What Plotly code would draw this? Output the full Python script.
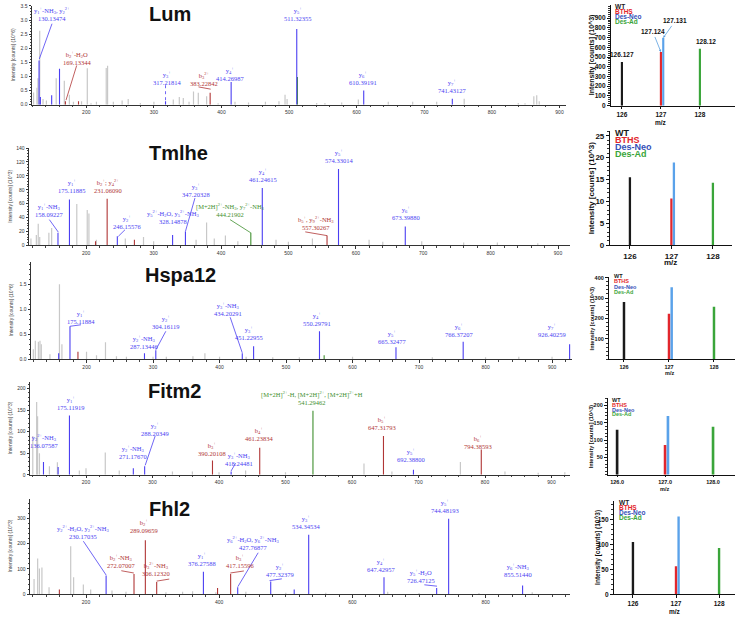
import plotly.graph_objects as go

W, H = 740, 621

def ion(letter, n, z):
    return f"{letter}<sub>{n}</sub><sup>{z}</sup>"
NH3 = "-NH<sub>3</sub>"
H2O = "-H<sub>2</sub>O"
M2H = "[M+2H]<sup>2+</sup>"

# ---------------- DATA ----------------
GENES = ["Lum", "Tmlhe", "Hspa12", "Fitm2", "Fhl2"]

# Lum
LUM_BG_MZ = [122, 127, 128.5, 131.1, 136, 141, 155.5, 167.5, 175, 181, 193, 201.5, 207, 215, 229.5, 231.5, 240, 253, 262, 280,
             300, 328.7, 337.6, 343.5, 352, 358.6, 365.7, 378, 395, 420, 440, 465, 485, 494, 497, 540.8, 553, 577.8, 602.4,
             646.7, 682.8, 718.3, 759, 839, 849, 862, 866.3, 870]
LUM_BG_INT = [0.43, 0.6, 0.94, 2.62, 0.2, 0.15, 0.94, 0.85, 0.35, 0.1, 0.12, 1.29, 0.05, 0.1, 1.3, 1.38, 0.1, 0.15, 0.2, 0.06,
              0.1, 0.18, 0.27, 0.24, 0.1, 0.47, 0.42, 0.3, 0.05, 0.1, 0.08, 0.1, 0.12, 0.35, 0.2, 0.06, 0.06, 0.08, 0.18,
              0.1, 0.1, 0.1, 0.21, 0.06, 0.05, 0.3, 0.33, 0.12]
LUM_ION_MZ = [130.13474, 132.1, 148.8, 160.4, 169.13344, 188.5, 317.21814, 383.22842, 414.26987, 511.32355, 512.3, 610.39191, 741.43127]
LUM_ION_INT = [1.57, 0.27, 0.33, 1.27, 0.12, 0.12, 0.12, 0.42, 0.8, 2.68, 0.98, 0.5, 0.21]
LUM_ION_KIND = ["y", "y", "y", "y", "b", "b", "y", "b", "y", "y", "p", "y", "y"]
LUM_ION_NAME = [ion("y", 1, "+") + NH3 + ", " + ion("y", 2, "2+"), "", "", "", ion("b", 2, "+") + H2O, "",
                ion("y", 3, "+"), ion("b", 3, "2+"), ion("y", 4, "+"), ion("y", 5, "+"), "", ion("y", 6, "+"), ion("y", 7, "+")]

# Tmlhe
TML_BG_MZ = [118, 126, 128.8, 131, 144.6, 148.7, 186, 201.5, 204, 215, 258, 285, 300, 363, 378.6, 390, 406.5, 425,
             481.6, 500, 535.6, 619.7, 640, 697.8, 760, 810, 870]
TML_BG_INT = [10, 15, 31, 12, 18, 25, 59.5, 51, 46, 8, 10, 12, 6, 8, 33, 10, 14, 6, 8, 5, 10, 8, 5, 6, 4, 4, 3]
TML_ION_MZ = [158.09227, 175.11885, 213.8, 231.06090, 246.15576, 271.5, 328.14878, 347.20328, 444.21902, 461.24615,
              557.30267, 574.33014, 673.39880]
TML_ION_INT = [18, 66, 6, 67, 13, 8, 15, 20, 18, 82.5, 14, 110, 27]
TML_ION_KIND = ["y", "y", "b", "b", "y", "b", "y", "y", "p", "y", "b", "y", "y"]
TML_ION_NAME = [ion("y", 1, "+") + NH3, ion("y", 1, "+"), "", ion("b", 2, "+") + "; " + ion("y", 4, "2+"), ion("y", 2, "+"), "",
                ion("y", 5, "2+") + H2O + ", " + ion("y", 5, "2+") + NH3, ion("y", 3, "+"),
                M2H + NH3 + ", " + ion("y", 7, "2+") + NH3, ion("y", 4, "+"),
                ion("b", 5, "+") + ", " + ion("y", 9, "2+") + NH3, ion("y", 5, "+"), ion("y", 6, "+")]

# Hspa12
HSP_BG_MZ = [120, 123, 127.6, 130, 132, 145, 159.3, 163, 200, 215, 228.5, 245, 260, 300, 320, 360, 378, 400, 440, 480,
             520, 600, 720, 800, 850, 900]
HSP_BG_INT = [0.2, 0.37, 0.35, 0.37, 0.3, 0.1, 1.5, 0.3, 0.15, 0.08, 0.34, 0.06, 0.05, 0.05, 0.05, 0.06, 0.12, 0.05, 0.05,
              0.04, 0.04, 0.05, 0.04, 0.04, 0.05, 0.05]
HSP_ION_MZ = [158.1, 175.11884, 187.1, 287.13446, 304.16119, 434.20291, 451.22955, 550.29791, 557.3, 665.32477, 766.37207, 926.40259]
HSP_ION_INT = [0.12, 0.66, 0.15, 0.12, 0.18, 0.12, 0.26, 0.56, 0.08, 0.24, 0.35, 0.3]
HSP_ION_KIND = ["y", "y", "b", "y", "y", "y", "y", "y", "p", "y", "y", "y"]
HSP_ION_NAME = ["", ion("y", 1, "+"), "", ion("y", 2, "+") + NH3, ion("y", 2, "+"), ion("y", 3, "+") + NH3, ion("y", 3, "+"),
                ion("y", 4, "+"), "", ion("y", 5, "+"), ion("y", 6, "+"), ion("y", 7, "+")]

# Fitm2
FIT_BG_MZ = [120, 125.8, 127.2, 130, 145, 157, 190, 200, 229, 250, 330, 360, 400, 440, 500, 618, 660, 763, 830, 880, 920]
FIT_BG_INT = [90, 169, 136, 50, 20, 29, 10, 15, 51.5, 10, 8, 8, 6, 10, 6, 26, 8, 30, 8, 5, 6]
FIT_ION_MZ = [136.07587, 158.1, 175.11919, 271.17670, 288.20349, 390.20108, 418.24481, 461.23834, 541.29462, 647.31793,
              692.38800, 794.38593]
FIT_ION_INT = [30, 18, 137.5, 15, 20, 33, 8, 62.5, 148.5, 90, 12, 59]
FIT_ION_KIND = ["y", "y", "y", "y", "y", "b", "y", "b", "p", "b", "y", "b"]
FIT_ION_NAME = [ion("y", 2, "2+") + NH3, "", ion("y", 1, "+"), ion("y", 2, "+") + NH3, ion("y", 2, "+"), ion("b", 3, "+"),
                ion("y", 3, "+") + NH3, ion("b", 4, "+"),
                "[M+2H]<sup>2+</sup>-H, [M+2H]<sup>2+</sup>, [M+2H]<sup>2+</sup>+H",
                ion("b", 5, "+"), ion("y", 5, "+"), ion("b", 6, "+")]

# Fhl2
FHL_BG_MZ = [122, 127.4, 130, 133.8, 144.5, 177, 181.4, 196, 207, 239, 260, 320, 345, 360, 395, 440, 500, 560, 653, 700, 790, 870]
FHL_BG_INT = [60, 141, 102, 106, 28, 190, 67, 39, 19, 15, 10, 8, 10, 12, 8, 10, 6, 6, 10, 5, 5, 8]
FHL_ION_MZ = [160, 230.17035, 272.07007, 289.09659, 306.12320, 376.27588, 397.5, 417.15596, 427.76877, 477.32379, 512.6,
              534.34534, 647.42957, 726.47125, 744.48193, 855.51440]
FHL_ION_INT = [19, 74, 80, 213, 48, 89, 25, 80, 28, 50, 19, 235, 67, 25, 298, 35]
FHL_ION_KIND = ["b", "y", "b", "b", "b", "y", "b", "b", "y", "y", "y", "y", "y", "y", "y", "y"]
FHL_ION_NAME = ["", ion("y", 2, "2+") + H2O + ", " + ion("y", 2, "2+") + NH3, ion("b", 2, "+") + NH3, ion("b", 2, "+"),
                ion("b", 3, "2+") + NH3, ion("y", 1, "+"), "", ion("b", 3, "+"),
                ion("y", 6, "2+") + H2O + ", " + ion("y", 6, "2+") + NH3, ion("y", 2, "+"), "", ion("y", 3, "+"),
                ion("y", 4, "+"), ion("y", 5, "+") + H2O, ion("y", 5, "+"), ion("y", 6, "+") + NH3]

# TMT reporter channels
CH_NAMES = ["WT", "BTHS", "Des-Neo", "Des-Ad"]
CH_POS = [126.0, 127.0, 127.06, 128.0]
CH_MZ = [126.127, 127.124, 127.131, 128.12]
LUM_TMT = [450, 552, 697, 585]
TML_TMT = [15.5, 10.7, 18.9, 14.3]
HSP_TMT = [281, 223, 353, 257]
FIT_TMT = [130, 86, 170, 139]
FHL_TMT = [105, 56, 156, 93]

# ---------------- STYLE / LAYOUT ----------------
BLUE, RED, GREEN, GRAY = "#4b3ff2", "#b03636", "#3f8f2f", "#c8c8c8"
KIND_COLOR = {"y": BLUE, "b": RED, "p": GREEN}
CH_BAR_COLORS = ["#1a1a1a", "#e2262c", "#5aa2ea", "#3aa53a"]
CH_TEXT_COLORS = ["#1a1a1a", "#e2262c", "#3450b8", "#3aa53a"]

LEFT = [
    dict(bg=(LUM_BG_MZ, LUM_BG_INT), ions=(LUM_ION_MZ, LUM_ION_INT, LUM_ION_KIND, LUM_ION_NAME),
         box=(32, 566, 3, 103), xr=(119.7, 909.6), yr=(0, 3.5), ydt=0.5, yfmt=".1f", xdt=100, unit="10^6",
         tpos=(170, 11), ytx=13),
    dict(bg=(TML_BG_MZ, TML_BG_INT), ions=(TML_ION_MZ, TML_ION_INT, TML_ION_KIND, TML_ION_NAME),
         box=(29, 570, 147, 245.5), xr=(115.1, 917.8), yr=(0, 140), ydt=20, yfmt="d", xdt=100, unit="10^3",
         tpos=(178, 152), ytx=10),
    dict(bg=(HSP_BG_MZ, HSP_BG_INT), ions=(HSP_ION_MZ, HSP_ION_INT, HSP_ION_KIND, HSP_ION_NAME),
         box=(31, 572, 262, 361), xr=(116.5, 930), yr=(0, 1.95), ydt=0.5, yfmt=".1f", xdt=100, unit="10^6",
         tpos=(180, 276), ytx=11),
    dict(bg=(FIT_BG_MZ, FIT_BG_INT), ions=(FIT_ION_MZ, FIT_ION_INT, FIT_ION_KIND, FIT_ION_NAME),
         box=(30, 570, 384, 478), xr=(115.8, 927.8), yr=(0, 215), ydt=50, yfmt="d", xdt=100, unit="10^3",
         tpos=(174, 393), ytx=10),
    dict(bg=(FHL_BG_MZ, FHL_BG_INT), ions=(FHL_ION_MZ, FHL_ION_INT, FHL_ION_KIND, FHL_ION_NAME),
         box=(30, 570, 502, 599), xr=(115.9, 926.7), yr=(0, 378), ydt=100, yfmt="d", xdt=200, unit="10^3",
         tpos=(169, 513), ytx=10),
]

LABELS = [
    [(130.13474, 149.3, 3.2, (149.3, 2.87, 130.5, 1.62), False),
     (169.13344, 186.3, 1.655, (185.8, 1.39, 170, 0.16), False),
     (317.21814, 319.4, 0.96, (317.2, 0.69, 317.2, 0.14), True),
     (383.22842, 374.3, 0.91, (366, 0.63, 384, 0.55), False),
     (414.26987, 412.7, 1.08, None, False),
     (511.32355, 511.7, 3.2, None, False),
     (610.39191, 609.3, 0.945, None, False),
     (741.43127, 741, 0.67, None, False)],
    [(158.09227, 145.3, 51, (145.3, 37, 158.6, 19), False),
     (175.11885, 178.5, 86, None, False),
     (231.06090, 232.3, 86, None, False),
     (246.15576, 260, 34, (257.6, 22.5, 247.7, 13), False),
     (328.14878, 329.2, 41, None, False),
     (347.20328, 362.3, 80, (361.3, 68, 347.2, 20), False),
     (444.21902, 413.4, 51.3, (413.4, 37, 444.2, 18), False),
     (461.24615, 462.8, 101, None, False),
     (557.30267, 540.2, 31.6, (525, 19.4, 557.3, 14), False),
     (574.33014, 575.5, 129, None, False),
     (673.39880, 674.5, 47, None, False)],
    [(175.11884, 191.7, 0.855, (191.7, 0.69, 175.2, 0.66), False),
     (287.13446, 287, 0.345, None, False),
     (304.16119, 319, 0.74, (319.2, 0.56, 304.2, 0.19), False),
     (434.20291, 412, 0.995, (416, 0.84, 434.2, 0.13), False),
     (451.22955, 445, 0.52, None, False),
     (550.29791, 546, 0.815, None, False),
     (665.32477, 660, 0.45, None, False),
     (766.37207, 760.5, 0.59, None, False),
     (926.40259, 900, 0.58, None, False)],
    [(136.07587, 136.5, 79, None, False),
     (175.11919, 176, 165.5, None, False),
     (271.17670, 270.7, 53, None, False),
     (288.20349, 304, 107, (304, 90, 289, 22), False),
     (390.20108, 389, 60.5, None, False),
     (418.24481, 429.7, 37.5, (425, 27, 418.2, 9), False),
     (461.23834, 459.5, 94, None, False),
     (541.29462, 539.6, 178, None, False),
     (647.31793, 645, 120.6, None, False),
     (692.38800, 688, 46.5, None, False),
     (794.38593, 790, 75, None, False)],
    [(230.17035, 196, 246, (196, 209.6, 230.2, 76), False),
     (272.07007, 253, 132.5, (253, 93, 271.8, 84), False),
     (289.09659, 287, 269, None, False),
     (306.12320, 305, 99, (306.1, 52, 325, 60), False),
     (376.27588, 373.6, 139.5, None, False),
     (417.15596, 431.4, 132, (416.6, 84, 437, 92), False),
     (427.76877, 450, 203.5, (458.5, 164, 428, 30), False),
     (477.32379, 491, 97.5, (475.6, 54, 494, 61), False),
     (534.34534, 530.5, 284, None, False),
     (647.42957, 642.4, 116, None, False),
     (726.47125, 703.6, 73, (708, 37.5, 727, 32), False),
     (744.48193, 739, 348.5, None, False),
     (855.51440, 849, 96, None, False)],
]

RIGHT = [
    dict(vals=LUM_TMT, box=(611, 735, 2, 104), xr=(125.72, 128.9), yr=(0, 1035), yt=list(range(0, 901, 100)), ymin=20,
         xtext=["126", "127", "128"], tf=6.5, tl=2.5, leg=(613, [4, 9, 14, 19], 6.5), ytitle=(592, 7), mz=(661, 121.5)),
    dict(vals=TML_TMT, box=(610, 732, 130, 245.5), xr=(125.52, 128.46), yr=(0, 26), yt=[0, 5, 10, 15, 20, 25], ymin=1,
         xtext=["126", "127", "128"], tf=8, tl=3, leg=(613, [132, 139, 146, 153], 9), ytitle=(591, 8), mz=(670, 263)),
    dict(vals=HSP_TMT, box=(609, 735, 278, 361), xr=(125.667, 128.467), yr=(0, 401), yt=[100, 200, 300, 400], ymin=20,
         xtext=["126", "127", "128"], tf=5.5, tl=1.5, leg=(612, [277, 282, 288, 293], 5.5), ytitle=(592, 5.5),
         mz=(669, 375)),
    dict(vals=FIT_TMT, box=(608, 735, 400, 478), xr=(125.81, 128.458), yr=(0, 222), yt=[50, 100, 150, 200], ymin=10,
         xtext=["126.0", "127.0", "128.0"], tf=5.5, tl=1.5, leg=(610, [402, 407, 412, 416.5], 5.5), ytitle=(591, 5.5),
         mz=(664, 492.5)),
    dict(vals=FHL_TMT, box=(614, 735, 505, 599), xr=(125.56, 128.37), yr=(0, 186), yt=[0, 50, 100, 150], ymin=10,
         xtext=["126", "127", "128"], tf=6.5, tl=2.5, leg=(617, [506, 511, 516, 521.5], 6.5), ytitle=(598, 6.5),
         mz=(675, 616.5)),
]


def xdom(x0, x1):
    return [x0 / W, x1 / W]


def ydom(ytop, ybot):
    return [1 - ybot / H, 1 - ytop / H]


def sticks(mz, inten):
    xs, ys = [], []
    for m, h in zip(mz, inten):
        xs += [m, m, None]
        ys += [0, h, None]
    return xs, ys


fig = go.Figure()
annotations, shapes = [], []
lay = {}

SANS = "Liberation Sans, Arial, sans-serif"
SERIF = "Liberation Serif, Times New Roman, serif"

for k, P in enumerate(LEFT):
    n = 2 * k + 1
    xa = "x" if n == 1 else f"x{n}"
    ya = "y" if n == 1 else f"y{n}"
    xk = "xaxis" if n == 1 else f"xaxis{n}"
    yk = "yaxis" if n == 1 else f"yaxis{n}"
    x0, x1, yt, yb = P["box"]
    gx, gy = sticks(*P["bg"])
    fig.add_trace(go.Scatter(x=gx, y=gy, mode="lines", line=dict(color=GRAY, width=1.2),
                             xaxis=xa, yaxis=ya, hoverinfo="skip", showlegend=False))
    imz, iint, ikind, iname = P["ions"]
    for kind in ["b", "p", "y"]:
        sel = [(m, h) for m, h, kd in zip(imz, iint, ikind) if kd == kind]
        if not sel:
            continue
        cx, cy = sticks([s[0] for s in sel], [s[1] for s in sel])
        fig.add_trace(go.Scatter(x=cx, y=cy, mode="lines", line=dict(color=KIND_COLOR[kind], width=1.1),
                                 xaxis=xa, yaxis=ya, hoverinfo="skip", showlegend=False))
    ax_common = dict(showline=True, linecolor="#333", linewidth=1, ticks="outside", ticklen=2.5, tickwidth=0.7,
                     tickcolor="#333", tickfont=dict(size=5, family=SANS, color="#333"), showgrid=False,
                     zeroline=False, fixedrange=True)
    lay[xk] = dict(ax_common, domain=xdom(x0, x1), range=list(P["xr"]), anchor=ya, tick0=0, dtick=P["xdt"],
                   minor=dict(ticks="outside", ticklen=1.5, dtick=20, tickcolor="#444", tickwidth=0.5))
    lay[yk] = dict(ax_common, domain=ydom(yt, yb), range=list(P["yr"]), anchor=xa, tick0=0, dtick=P["ydt"],
                   tickformat=P["yfmt"],
                   minor=dict(ticks="outside", ticklen=1.5, dtick=P["ydt"] / 5, tickcolor="#444", tickwidth=0.5))
    tx, ty = P["tpos"]
    annotations.append(dict(text=f"<b>{GENES[k]}</b>", x=tx / W, y=1 - ty / H, xref="paper", yref="paper",
                            showarrow=False, font=dict(size=20, family=SANS, color="#111"),
                            xanchor="center", yanchor="middle"))
    annotations.append(dict(text=f"Intensity [counts] ({P['unit']})", x=P["ytx"] / W, y=1 - (yt + yb) / 2 / H,
                            xref="paper", yref="paper", showarrow=False, textangle=-90,
                            font=dict(size=5, family=SANS, color="#444"), xanchor="center", yanchor="middle"))
    for (key, lx, ly, lead, dashed) in LABELS[k]:
        i = imz.index(key)
        col = KIND_COLOR[ikind[i]]
        annotations.append(dict(text=f"{iname[i]}<br>{imz[i]:.5f}", x=lx, y=ly, xref=xa, yref=ya, showarrow=False,
                                font=dict(size=6.5, family=SERIF, color=col), xanchor="center", yanchor="middle",
                                align="center"))
        if lead:
            shapes.append(dict(type="line", xref=xa, yref=ya, x0=lead[0], y0=lead[1], x1=lead[2], y1=lead[3],
                               line=dict(color=col, width=0.8, dash="dot" if dashed else "solid")))

for k, R in enumerate(RIGHT):
    n = 2 * k + 2
    xa, ya = f"x{n}", f"y{n}"
    xk, yk = f"xaxis{n}", f"yaxis{n}"
    x0, x1, yt, yb = R["box"]
    fig.add_trace(go.Bar(x=CH_POS, y=R["vals"], width=0.055, marker=dict(color=CH_BAR_COLORS, line_width=0),
                         xaxis=xa, yaxis=ya, hoverinfo="skip", showlegend=False))
    tfont = dict(size=R["tf"], family=SANS, color="#111", weight="bold")
    lay[xk] = dict(domain=xdom(x0, x1), range=list(R["xr"]), anchor=ya, showline=True, linecolor="#111",
                   linewidth=1.2, ticks="outside", ticklen=R["tl"], tickwidth=1, tickcolor="#111",
                   tickvals=[126, 127, 128], ticktext=R["xtext"], tickfont=tfont, showgrid=False, zeroline=False,
                   fixedrange=True)
    lay[yk] = dict(domain=ydom(yt, yb), range=list(R["yr"]), anchor=xa, showline=True, linecolor="#111",
                   linewidth=1.2, ticks="outside", ticklen=3, tickwidth=1, tickcolor="#111",
                   tickvals=R["yt"], tickfont=tfont, showgrid=False, zeroline=False, fixedrange=True,
                   minor=dict(ticks="outside", ticklen=1.5, dtick=R["ymin"], tickcolor="#333", tickwidth=0.6))
    lx, lys, lf = R["leg"]
    for name, col, yy in zip(CH_NAMES, CH_TEXT_COLORS, lys):
        annotations.append(dict(text=f"<b>{name}</b>", x=lx / W, y=1 - yy / H, xref="paper", yref="paper",
                                showarrow=False, font=dict(size=lf, family=SANS, color=col),
                                xanchor="left", yanchor="middle"))
    tx, tf2 = R["ytitle"]
    annotations.append(dict(text="<b>Intensity [counts] (10^3)</b>", x=tx / W, y=1 - (yt + yb) / 2 / H,
                            xref="paper", yref="paper", showarrow=False, textangle=-90,
                            font=dict(size=tf2, family=SANS, color="#111"), xanchor="center", yanchor="middle"))
    mx, my = R["mz"]
    annotations.append(dict(text="<b>m/z</b>", x=mx / W, y=1 - my / H, xref="paper", yref="paper",
                            showarrow=False, font=dict(size=R["tf"], family=SANS, color="#111"),
                            xanchor="center", yanchor="middle"))
    if k == 0:
        v = R["vals"]
        annotations.append(dict(text=f"<b>{CH_MZ[0]}</b>", x=CH_POS[0], y=v[0], xref=xa, yref=ya, showarrow=False,
                                yshift=7, font=dict(size=6.5, family=SANS, color="#111")))
        annotations.append(dict(text=f"<b>{CH_MZ[3]}</b>", x=CH_POS[3], y=v[3], xref=xa, yref=ya, showarrow=False,
                                yshift=7, xshift=6, font=dict(size=6.5, family=SANS, color="#111")))
        annotations.append(dict(text=f"<b>{CH_MZ[1]}</b>", x=CH_POS[1], y=v[1], xref=xa, yref=ya, showarrow=True,
                                ax=-8, ay=-20, arrowhead=2, arrowsize=0.6, arrowwidth=0.8, arrowcolor="#5a9fe0",
                                font=dict(size=6.5, family=SANS, color="#111")))
        annotations.append(dict(text=f"<b>{CH_MZ[2]}</b>", x=CH_POS[2], y=v[2], xref=xa, yref=ya, showarrow=True,
                                ax=12, ay=-17, arrowhead=2, arrowsize=0.6, arrowwidth=0.8, arrowcolor="#5a9fe0",
                                font=dict(size=6.5, family=SANS, color="#111")))

fig.update_layout(width=W, height=H, margin=dict(l=0, r=0, t=0, b=0), paper_bgcolor="white",
                  plot_bgcolor="rgba(0,0,0,0)", barmode="overlay", annotations=annotations, shapes=shapes,
                  showlegend=False, **lay)
fig.write_html("out.html", config={"displayModeBar": False},
               post_script="document.body.style.margin='0';document.body.style.padding='0';"
                           "document.body.style.overflow='hidden';")
